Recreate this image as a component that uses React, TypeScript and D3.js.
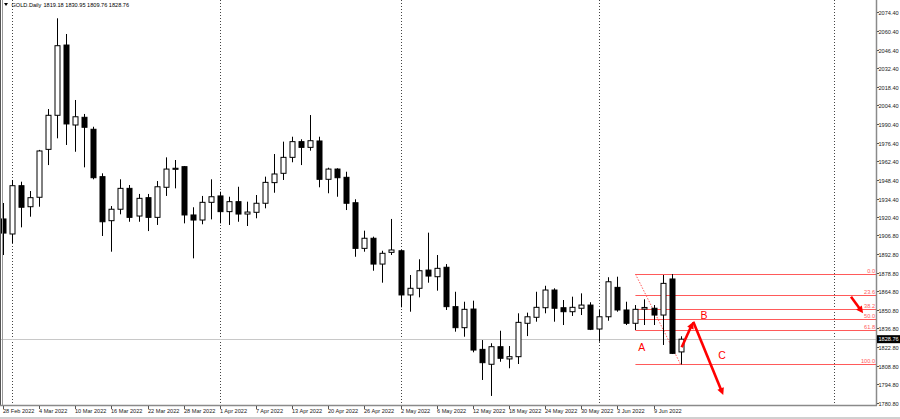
import React from 'react';
import * as d3 from 'd3';

const openP = [1919.1,1907.8,1944.1,1928.3,1935.4,1971.4,1997.0,2049.8,1989.7,1995.5,1986.5,1950.9,1917.8,1926.4,1942.1,1921.3,1935.1,1920.3,1942.9,1956.4,1958.4,1922.1,1918.3,1931.6,1936.4,1924.6,1932.1,1922.8,1924.1,1930.9,1946.4,1953.4,1965.4,1977.2,1972.9,1977.7,1948.9,1956.6,1950.4,1931.3,1897.0,1904.6,1885.2,1894.0,1895.2,1862.0,1867.0,1880.7,1875.7,1882.8,1853.2,1837.4,1851.4,1821.1,1809.9,1823.1,1813.9,1815.6,1840.7,1845.2,1852.4,1865.7,1852.4,1849.4,1852.0,1854.4,1836.4,1845.6,1867.7,1850.7,1840.7,1851.4,1852.0,1846.9,1874.0,1819.18];
const highP = [1931.1,1948.4,1947.1,1940.1,1971.0,2001.7,2069.9,2058.1,2008.5,1998.0,1988.4,1953.4,1928.8,1948.9,1944.6,1937.9,1937.9,1947.6,1965.4,1963.4,1958.9,1927.9,1936.4,1948.9,1939.6,1935.8,1943.3,1932.1,1937.1,1950.9,1967.9,1977.2,1980.9,1979.0,1997.2,1980.9,1957.6,1957.2,1954.6,1933.9,1910.3,1905.8,1895.2,1919.1,1895.8,1877.0,1888.8,1908.8,1892.0,1885.2,1864.4,1856.9,1857.7,1828.1,1825.7,1835.1,1823.6,1848.2,1848.7,1864.4,1868.9,1867.0,1858.2,1860.7,1863.2,1856.5,1850.7,1875.3,1875.7,1856.9,1854.4,1858.7,1854.4,1877.0,1877.7,1830.95];
const lowP = [1892.0,1901.0,1912.8,1920.8,1928.3,1959.6,1979.7,1974.7,1969.6,1957.9,1948.9,1906.3,1894.5,1922.6,1917.0,1917.0,1910.0,1914.6,1936.4,1942.1,1915.8,1889.5,1915.1,1918.8,1915.8,1914.6,1917.0,1913.8,1919.6,1927.1,1938.8,1948.4,1961.7,1959.6,1970.4,1942.9,1938.4,1935.8,1925.8,1890.7,1894.5,1880.2,1871.2,1892.0,1852.7,1849.4,1860.2,1871.2,1865.2,1850.7,1834.4,1830.6,1818.9,1798.1,1786.1,1811.8,1806.9,1810.1,1831.1,1841.9,1848.2,1841.9,1839.4,1846.2,1846.9,1835.6,1826.9,1842.6,1849.4,1839.4,1835.6,1839.4,1839.4,1824.4,1817.6,1809.76];
const closeP = [1908.5,1944.1,1927.9,1935.1,1970.2,1997.0,2049.3,1990.5,1995.9,1988.0,1950.1,1917.0,1926.4,1942.1,1920.3,1934.6,1920.3,1943.3,1956.6,1957.2,1922.1,1918.3,1931.6,1935.8,1924.6,1932.1,1922.8,1924.3,1930.9,1946.6,1952.9,1965.4,1977.2,1972.9,1977.9,1948.9,1956.6,1950.1,1930.9,1897.0,1904.6,1885.2,1893.3,1895.8,1862.0,1867.0,1880.2,1876.2,1882.0,1853.2,1837.4,1851.2,1820.6,1811.1,1823.1,1814.4,1815.6,1841.4,1845.6,1852.7,1865.7,1852.0,1849.4,1852.7,1854.4,1836.2,1845.6,1871.9,1850.7,1840.7,1851.2,1852.6,1846.9,1870.7,1818.1,1828.76];

const dateLabels = ["28 Feb 2022","4 Mar 2022","10 Mar 2022","16 Mar 2022","22 Mar 2022","28 Mar 2022","1 Apr 2022","7 Apr 2022","13 Apr 2022","20 Apr 2022","26 Apr 2022","2 May 2022","6 May 2022","12 May 2022","18 May 2022","24 May 2022","30 May 2022","3 Jun 2022","9 Jun 2022"];
const dateLabelStep = 4;
const priceTicks = [2074.40,2060.40,2046.40,2032.40,2018.40,2004.40,1990.40,1976.40,1962.40,1948.40,1934.40,1920.40,1906.80,1892.80,1878.80,1864.80,1850.80,1836.80,1822.80,1808.80,1794.80,1780.80];
const priceTickLabels = ["2074.40","2060.40","2046.40","2032.40","2018.40","2004.40","1990.40","1976.40","1962.40","1948.40","1934.40","1920.40","1906.80","1892.80","1878.80","1864.80","1850.80","1836.80","1822.80","1808.80","1794.80","1780.80"];
const separatorIdx = [1, 24, 44, 66, 92];
const fibLevels = [0, 23.6, 38.2, 50, 61.8, 100];
const fibLabels = ["0.0", "23.6", "38.2", "50.0", "61.8", "100.0"];
const fibHigh = 1877.7;
const fibLow = 1809.76;
const fibStartIdx = 70;
const fibEndIdx = 75;
const lastPrice = 1828.76;
const titleSymbol = "GOLD.Daily";
const titleValues = "1819.18 1830.95 1809.76 1828.76";
// arrows: [idx1, price1, idx2, price2]
const arrows = [
  [75.12, 1822.7, 76.4, 1841.9],
  [76.4, 1841.9, 79.72, 1786.8],
  [93.86, 1860.7, 95.2, 1848.2],
];
const waveLabels = ["A", "B", "C"];
const waveIdx = [70.7, 77.6, 79.6];
const wavePrice = [1823.1, 1846.9, 1816.9];

const W = 900, H = 419;
const plotRight = 876, plotBottom = 405;
const FONT = "'Liberation Sans', Arial, sans-serif";
const FS = 5.6;

export default function App() {
  const x = d3.scaleLinear().domain([0, 92]).range([3, 834.2]);
  const y = d3.scaleLinear().domain([1780.8, 2074.4]).range([403, 12.3]);
  const bodyW = 5;
  const red = '#ff0000';
  const fibColor = '#ff5a5a';

  const arrowHead = (x1: number, y1: number, x2: number, y2: number, len = 7, wid = 3.5) => {
    const dx = x2 - x1, dy = y2 - y1;
    const L = Math.hypot(dx, dy);
    const ux = dx / L, uy = dy / L;
    const bx = x2 - ux * len, by = y2 - uy * len;
    const px = -uy, py = ux;
    return `${x2},${y2} ${bx + px * wid},${by + py * wid} ${bx - px * wid},${by - py * wid}`;
  };

  return (
    <svg width={W} height={H} style={{ position: 'fixed', left: 0, top: 0, background: '#fff' }} fontFamily={FONT}>
      <defs>
        <clipPath id="plot"><rect x={0} y={0} width={plotRight} height={plotBottom} /></clipPath>
      </defs>
      <rect x={0} y={0} width={W} height={H} fill="#fff" />
      {/* separators */}
      <g clipPath="url(#plot)">
        {separatorIdx.map((s, i) => (
          <line key={i} x1={Math.round(x(s)) + 0.5} x2={Math.round(x(s)) + 0.5} y1={0} y2={plotBottom} stroke="#444" strokeWidth={1} strokeDasharray="1,2" />
        ))}
        {/* last price line */}
        <line x1={0} x2={plotRight} y1={Math.round(y(lastPrice)) + 0.5} y2={Math.round(y(lastPrice)) + 0.5} stroke="#c8c8c8" strokeWidth={1} />
        {/* fib lines */}
        {fibLevels.map((lv, i) => {
          const p = fibHigh - (fibHigh - fibLow) * lv / 100;
          const yy = Math.round(y(p)) + 0.5;
          return (
            <g key={i}>
              <line x1={x(fibStartIdx)} x2={plotRight} y1={yy} y2={yy} stroke={fibColor} strokeWidth={1} />
              <text x={plotRight - 1} y={yy - 1.5} fontSize={FS} textAnchor="end" fill={fibColor}>{fibLabels[i]}</text>
            </g>
          );
        })}
        <line x1={x(fibStartIdx)} y1={y(fibHigh)} x2={x(fibEndIdx)} y2={y(fibLow)} stroke={fibColor} strokeWidth={1} strokeDasharray="1.5,1.5" />
        {/* candles */}
        {openP.map((o, i) => {
          const c = closeP[i], h = highP[i], l = lowP[i];
          const cx = Math.round(x(i)) + 0.5;
          const top = y(Math.max(o, c)), bot = y(Math.min(o, c));
          const bull = c >= o;
          return (
            <g key={i}>
              <line x1={cx} x2={cx} y1={y(h)} y2={y(l)} stroke="#000" strokeWidth={1} />
              <rect x={cx - bodyW / 2} y={top} width={bodyW} height={Math.max(bot - top, 1)} fill={bull ? '#fff' : '#000'} stroke="#000" strokeWidth={1} />
            </g>
          );
        })}
        {/* arrows */}
        {arrows.map((a, i) => {
          const x1 = x(a[0]), y1 = y(a[1]), x2 = x(a[2]), y2 = y(a[3]);
          const dx = x2 - x1, dy = y2 - y1, L = Math.hypot(dx, dy);
          const ex = x2 - dx / L * 5, ey = y2 - dy / L * 5;
          return (
            <g key={i}>
              <line x1={x1} y1={y1} x2={ex} y2={ey} stroke={red} strokeWidth={2.6} />
              <polygon points={arrowHead(x1, y1, x2, y2)} fill={red} />
            </g>
          );
        })}
        {waveLabels.map((t, i) => (
          <text key={t} x={x(waveIdx[i])} y={y(wavePrice[i]) + 4} fontSize={10.5} textAnchor="middle" fill={red}>{t}</text>
        ))}
      </g>
      {/* frame */}
      <line x1={0.5} x2={0.5} y1={0} y2={plotBottom} stroke="#555" strokeWidth={1} />
      <line x1={2.5} x2={2.5} y1={0} y2={plotBottom} stroke="#999" strokeWidth={1} />
      <line x1={plotRight + 0.5} x2={plotRight + 0.5} y1={0} y2={plotBottom + 0.5} stroke="#8a8a8a" strokeWidth={1.5} />
      <line x1={0} x2={plotRight + 1} y1={plotBottom + 0.5} y2={plotBottom + 0.5} stroke="#8a8a8a" strokeWidth={1.5} />
      {/* title */}
      <polygon points="4,3 8,3 6,6" fill="#000" />
      <text x={11.5} y={7} fontSize={FS} fill="#000">{titleSymbol}</text>
      <text x={43.5} y={7} fontSize={FS} fill="#000">{titleValues}</text>
      {/* price axis */}
      {priceTicks.map((p, i) => {
        const yy = Math.round(y(p)) + 0.5;
        return (
          <g key={i}>
            <line x1={plotRight + 1} x2={plotRight + 3} y1={yy} y2={yy} stroke="#555" />
            <text x={878.5} y={yy + 2} fontSize={FS} fill="#222">{priceTickLabels[i]}</text>
          </g>
        );
      })}
      <rect x={plotRight + 1} y={y(lastPrice) - 4} width={W - plotRight - 1} height={8} fill="#000" />
      <text x={878.5} y={y(lastPrice) + 2} fontSize={FS} fill="#fff">{lastPrice.toFixed(2)}</text>
      {/* date axis */}
      {dateLabels.map((d, i) => {
        const xx = Math.round(x(i * dateLabelStep)) + 0.5;
        return (
          <g key={i}>
            <line x1={xx} x2={xx} y1={plotBottom + 1} y2={plotBottom + 4} stroke="#555" />
            <text x={xx - 0.5} y={412.5} fontSize={FS} fill="#222">{d}</text>
          </g>
        );
      })}
      <line x1={0} x2={W} y1={418} y2={418} stroke="#d0d0d0" strokeWidth={2} />
    </svg>
  );
}
